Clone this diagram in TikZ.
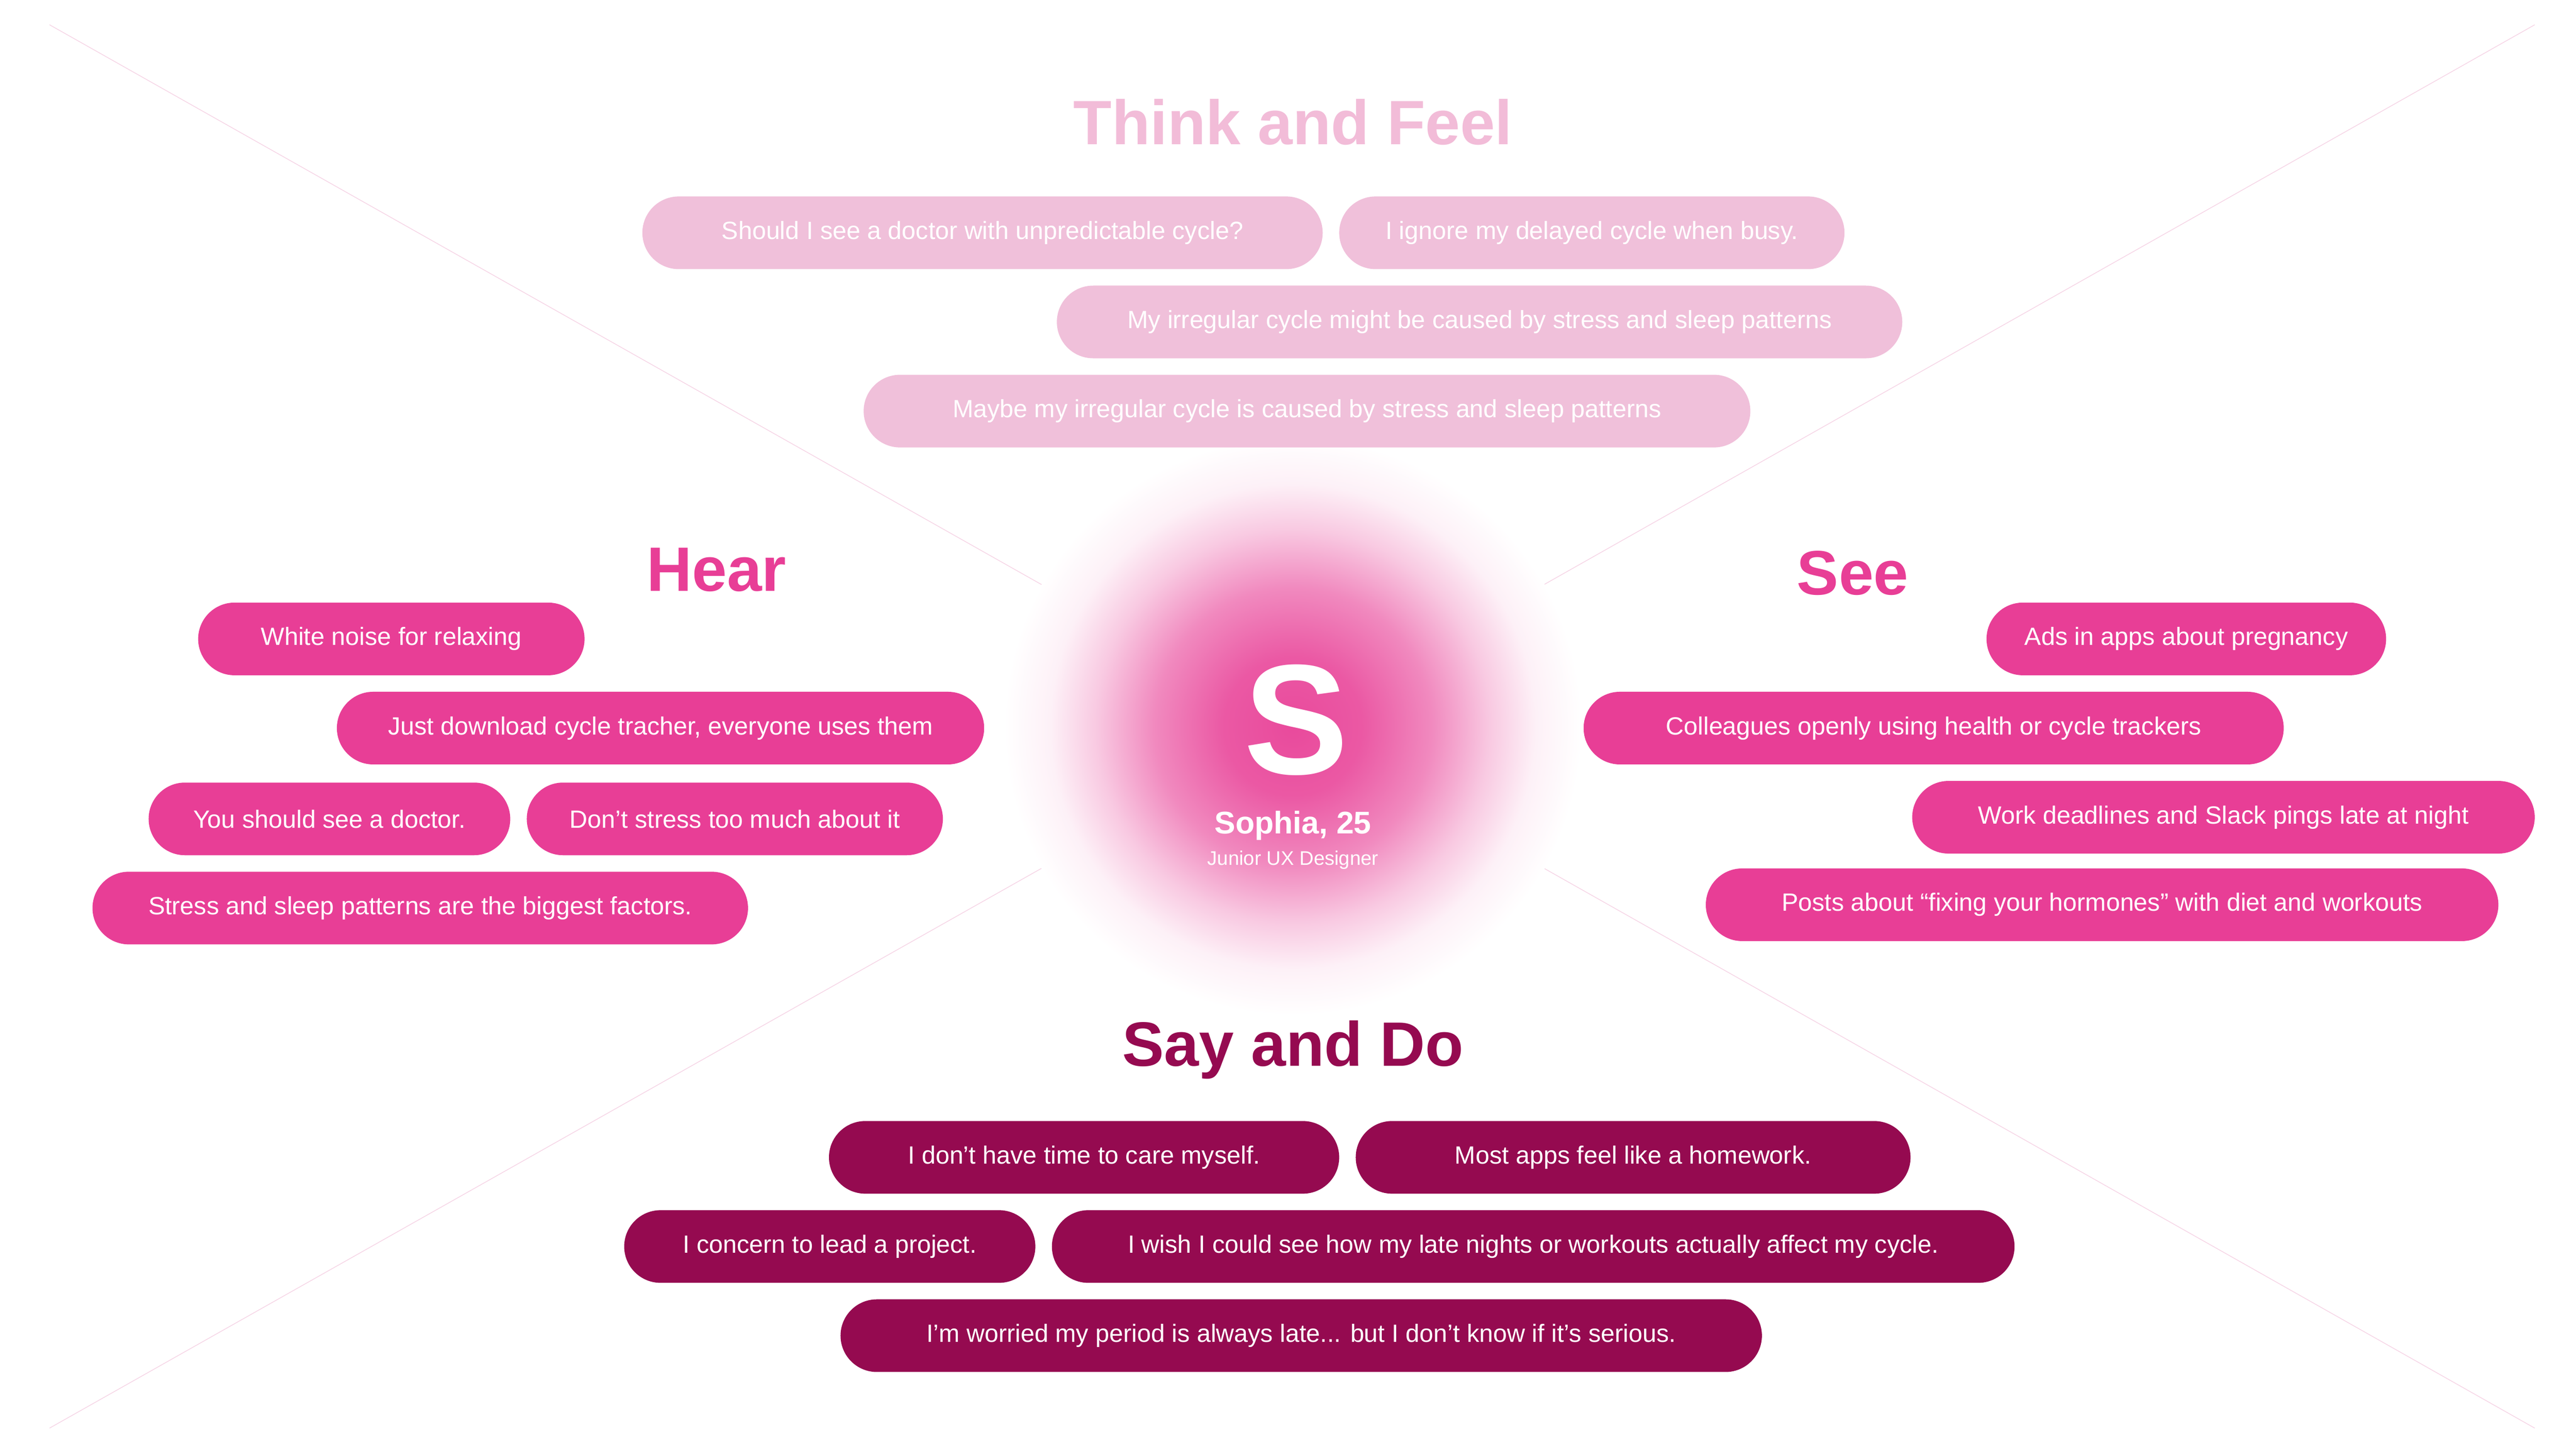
\documentclass[tikz,border=0pt]{standalone}
\usepackage{fontspec}
\setmainfont{Liberation Sans}
\definecolor{lp}{HTML}{F0C0DA}
\definecolor{ttl}{HTML}{F2BCD8}
\definecolor{mp}{HTML}{E83E96}
\definecolor{dp}{HTML}{950A50}
\definecolor{glow}{HTML}{E94A9C}
\definecolor{rayc}{HTML}{F6D3E5}
\pgfdeclareradialshading{glowsh}{\pgfpoint{0bp}{0bp}}{color(0bp)=(glow);color(6bp)=(glow!92);color(12bp)=(glow!65);color(17bp)=(glow!30);color(21bp)=(glow!8);color(25bp)=(white)}
\begin{document}
\begin{tikzpicture}[x=0.1cm,y=-0.1cm,
  chip/.style={fill=#1,rounded corners=2.2cm,minimum height=4.4cm,text=white,inner sep=0pt,font=\fontsize{43}{50}\selectfont},
  ttlstyle/.style={text=#1,font=\fontsize{108}{120}\selectfont\bfseries},
  ray/.style={draw=rayc,line width=1.2pt}]
\useasboundingbox (0,0) rectangle (1560,877.5);
\fill[white] (0,0) rectangle (1560,877.5);
\coordinate (c) at (783,440);
\coordinate (tl) at (30,15);
\coordinate (tr) at (1535,15);
\coordinate (bl) at (30,865);
\coordinate (br) at (1535,865);
\draw[ray] (tl)--(c)--(tr) (bl)--(c)--(br);
\shade[shading=glowsh] (c) circle (175);
\node[text=white,font=\fontsize{270}{270}\selectfont\bfseries] (s) at (785,436) {S};
\node[text=white,font=\fontsize{54}{60}\selectfont\bfseries] (nm) at (783,500) {Sophia, 25};
\node[text=white,font=\fontsize{34}{40}\selectfont] (job) at (783,521) {Junior UX Designer};
% Think and Feel
\node[ttlstyle=ttl] (tf) at (783,74) {Think and Feel};
\node[chip=lp,minimum width=41.2cm] (t1) at (595,141) {Should I see a doctor with unpredictable cycle?};
\node[chip=lp,minimum width=30.6cm] (t2) at (964,141) {I ignore my delayed cycle when busy.};
\node[chip=lp,minimum width=51.2cm] (t3) at (896,195) {My irregular cycle might be caused by stress and sleep patterns};
\node[chip=lp,minimum width=53.7cm] (t4) at (791.5,249) {Maybe my irregular cycle is caused by stress and sleep patterns};
% Hear
\node[ttlstyle=mp] (hr) at (434,345) {Hear};
\node[chip=mp,minimum width=23.4cm] (h1) at (237,387) {White noise for relaxing};
\node[chip=mp,minimum width=39.2cm] (h2) at (400,441) {Just download cycle tracher, everyone uses them};
\node[chip=mp,minimum width=21.9cm] (h3) at (199.5,496) {You should see a doctor.};
\node[chip=mp,minimum width=25.2cm] (h4) at (445,496) {Don’t stress too much about it};
\node[chip=mp,minimum width=39.7cm] (h5) at (254.5,550) {Stress and sleep patterns are the biggest factors.};
% See
\node[ttlstyle=mp] (se) at (1122,347) {See};
\node[chip=mp,minimum width=24.2cm] (s1) at (1324,387) {Ads in apps about pregnancy};
\node[chip=mp,minimum width=42.4cm] (s2) at (1171,441) {Colleagues openly using health or cycle trackers};
\node[chip=mp,minimum width=37.7cm] (s3) at (1346.5,495) {Work deadlines and Slack pings late at night};
\node[chip=mp,minimum width=48cm] (s4) at (1273,548) {Posts about “fixing your hormones” with diet and workouts};
% Say and Do
\node[ttlstyle=dp] (sd) at (783,636) {Say and Do};
\node[chip=dp,minimum width=30.9cm] (d1) at (656.5,701) {I don’t have time to care myself.};
\node[chip=dp,minimum width=33.6cm] (d2) at (989,701) {Most apps feel like a homework.};
\node[chip=dp,minimum width=24.9cm] (d3) at (502.5,755) {I concern to lead a project.};
\node[chip=dp,minimum width=58.3cm] (d4) at (928.5,755) {I wish I could see how my late nights or workouts actually affect my cycle.};
\node[chip=dp,minimum width=55.8cm] (d5) at (788,809) {I’m worried my period is always late... but I don’t know if it’s serious.};
\end{tikzpicture}
\end{document}
